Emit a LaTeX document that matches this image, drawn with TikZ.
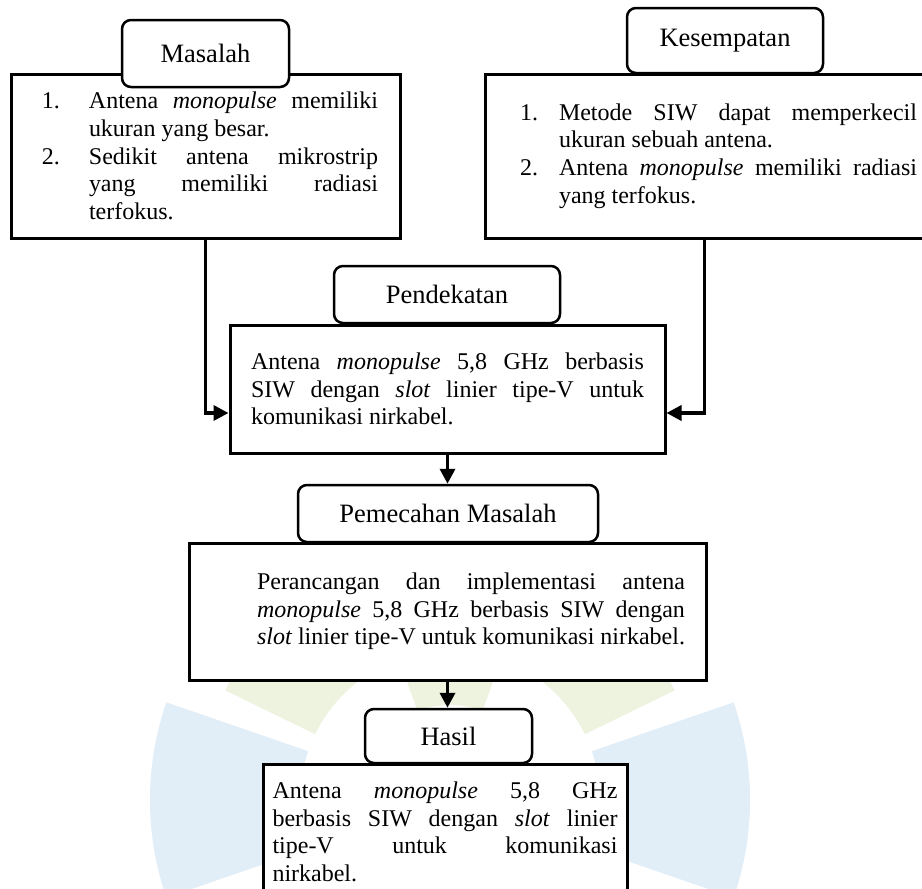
\documentclass[tikz,border=0pt]{standalone}
\usepackage{fontspec}
\setmainfont{Liberation Serif}
\usetikzlibrary{arrows.meta, positioning}
\newcommand{\bodyfont}{\fontsize{24}{27.6}\selectfont}
\newcommand{\tabfont}{\fontsize{26.5}{30}\selectfont}
\definecolor{markblue}{RGB}{225,237,247}
\definecolor{markgreen}{RGB}{238,243,224}
\tikzstyle{content} = [rectangle, draw=black, line width=3pt, fill=white, inner sep=0pt, align=justify, font=\bodyfont]
\tikzstyle{tab} = [rectangle, rounded corners=9pt, draw=black, line width=2.5pt, fill=white, inner sep=0pt, font=\tabfont]
\tikzstyle{arrow} = [line width=3.5pt, -{Triangle[length=15pt,width=15pt]}]
\tikzstyle{petal} = [draw=none]

\begin{document}
\begin{tikzpicture}[x=1pt,y=-1pt]
\path[use as bounding box, clip] (0,0) rectangle (922,889);

% faint watermark behind the chart
\coordinate (mark) at (450,800);
\foreach \a/\c/\r in {180/markblue/300, 0/markblue/300, 225/markgreen/250, 315/markgreen/250} {
  \fill [petal, \c] ([shift={(\a-19:150)}]mark) arc[start angle=\a-19, end angle=\a+19, radius=150] -- ([shift={(\a+19:\r)}]mark) arc[start angle=\a+19, end angle=\a-19, radius=\r] -- cycle;
}
\fill [petal, markgreen] ([shift={(250:95)}]mark) arc[start angle=250, end angle=290, radius=95] -- ([shift={(290:125)}]mark) arc[start angle=290, end angle=250, radius=125] -- cycle;

\node (masalah) [content, minimum width=389pt, minimum height=164pt, text width=345pt] at (205.5,156) {\parindent=0pt\leftskip=9pt
\hangindent=47pt\hangafter=1\makebox[47pt][l]{1.}Antena \emph{monopulse} memiliki\linebreak ukuran yang besar.\par
\hangindent=47pt\hangafter=1\makebox[47pt][l]{2.}Sedikit antena mikrostrip\linebreak yang memiliki radiasi\linebreak terfokus.\par};
\node (masalahtab) [tab, minimum width=167pt, minimum height=67pt] at (205.5,53.5) {Masalah};

\node (kesempatan) [content, minimum width=439pt, minimum height=164pt, text width=425pt] at (704.5,156) {\parindent=0pt\leftskip=28pt
\hangindent=39pt\hangafter=1\makebox[39pt][l]{1.}Metode SIW dapat memperkecil\linebreak ukuran sebuah antena.\par
\hangindent=39pt\hangafter=1\makebox[39pt][l]{2.}Antena \emph{monopulse} memiliki radiasi\linebreak yang terfokus.\par};
\node (kesempatantab) [tab, minimum width=196pt, minimum height=65pt] at (725,40.5) {Kesempatan};

\node (pendekatan) [content, minimum width=435pt, minimum height=128pt, text width=393pt] at (447.5,389) {Antena \emph{monopulse} 5,8 GHz berbasis\linebreak SIW dengan \emph{slot} linier tipe-V untuk\linebreak komunikasi nirkabel.};
\node (pendekatantab) [tab, minimum width=226pt, minimum height=57pt] at (447,294.5) {Pendekatan};

\node (pemecahan) [content, minimum width=517pt, minimum height=137pt, text width=475pt] at (447.5,611.5) {\parindent=0pt\leftskip=47pt Perancangan dan implementasi antena\linebreak \emph{monopulse} 5,8 GHz berbasis SIW dengan\linebreak \emph{slot} linier tipe-V untuk komunikasi nirkabel.\par};
\node (pemecahantab) [tab, minimum width=300pt, minimum height=57pt] at (448,513.5) {Pemecahan Masalah};

\node (hasil) [content, minimum width=364pt, minimum height=136pt, text width=345pt] at (445,832) {Antena \emph{monopulse} 5,8 GHz\linebreak berbasis SIW dengan \emph{slot} linier\linebreak tipe-V untuk komunikasi\linebreak nirkabel.};
\node (hasiltab) [tab, minimum width=167pt, minimum height=54pt] at (448.5,736) {Hasil};

\draw [arrow] (masalah.south) |- ([yshift=-24pt]pendekatan.west);
\draw [arrow] (kesempatan.south) |- ([yshift=-24pt]pendekatan.east);
\draw [arrow] (pendekatan.south) -- (pendekatan.south |- pemecahantab.north);
\draw [arrow] (pemecahan.south) -- (pemecahan.south |- hasiltab.north);

\end{tikzpicture}
\end{document}
